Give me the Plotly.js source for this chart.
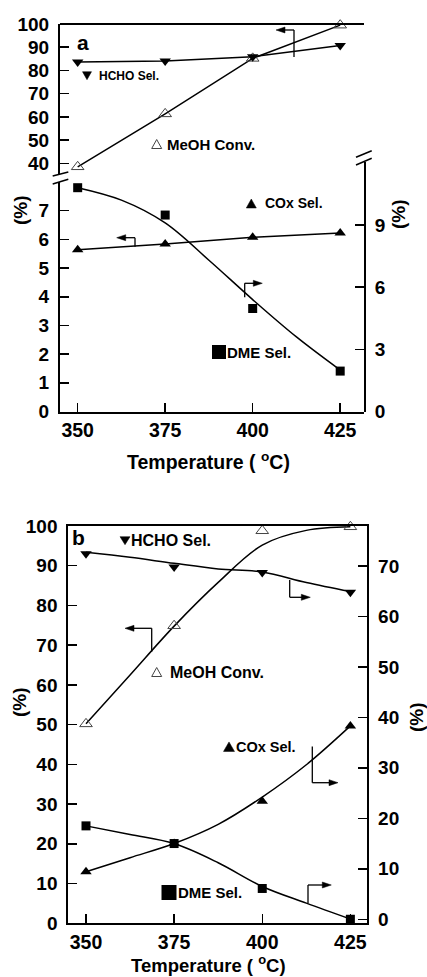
<!DOCTYPE html>
<html><head><meta charset="utf-8">
<script src="https://cdn.plot.ly/plotly-3.0.1.min.js"></script>
<style>html,body{margin:0;padding:0;background:#fff}#chart{width:427px;height:977px}</style>
</head><body><div id="chart"></div>
<script>
// Reaction temperatures (°C)
const temps = [350, 375, 400, 425];
const tickTemps = [350, 375, 400, 425];
const fitTemps = [350, 362.5, 375, 387.5, 400, 412.5, 425];

// Panel (a) measurements
const aMeohConv = [38.5, 61.3, 85.2, 99.5];   // left, upper part
const aHchoSel  = [83.6, 84.1, 85.9, 90.7];   // left, upper part
const aCoxSel   = [5.64, 5.84, 6.07, 6.22];   // left, lower part
const aDmeSel   = [10.8, 9.48, 4.97, 1.95];   // right, lower part
const aDmeFit   = [10.8, 10.2, 9.1, 7.3, 5.4, 3.6, 2.0];

// Panel (b) measurements
const bMeohConv = [50.2, 74.9, 98.8, 99.8];   // left
const bHchoSel  = [72.4, 69.8, 68.7, 64.8];   // right
const bCoxSel   = [9.4, 15.0, 23.4, 38.3];    // right
const bDmeSel   = [18.5, 15.0, 6.1, 0.0];     // right
const bMeohFit  = [50.2, 62.5, 74.8, 85.8, 95.2, 98.9, 99.8];
const bHchoFit  = [72.7, 71.7, 70.5, 69.4, 68.8, 66.7, 64.9];
const bCoxFit   = [9.4, 12.2, 15.0, 18.8, 24.2, 30.6, 38.3];
const bDmeFit   = [18.5, 16.8, 15.0, 11.2, 6.5, 3.2, 0.05];

// Tick labels
const aLeftUpTicks = [40, 50, 60, 70, 80, 90, 100];
const aLeftLowTicks = [0, 1, 2, 3, 4, 5, 6, 7];
const aRightUpTicks = [70, 80, 90, 100];
const aRightLowTicks = [0, 3, 6, 9];
const bLeftTicks = [0, 10, 20, 30, 40, 50, 60, 70, 80, 90, 100];
const bRightTicks = [0, 10, 20, 30, 40, 50, 60, 70];

const W = 427, H = 977;
const px = x => x / W;
const py = y => 1 - y / H;
const FONT = 'Liberation Sans, Arial, Helvetica, sans-serif';

function pts(x, y, xa, ya, symbol, size, extra) {
  return Object.assign({
    x: x, y: y, xaxis: xa, yaxis: ya, type: 'scatter', mode: 'markers', cliponaxis: false,
    marker: {symbol: symbol, size: size, color: '#000', line: {color: '#000', width: 0}}
  }, extra || {});
}
function curve(x, y, xa, ya, shape) {
  return {x: x, y: y, xaxis: xa, yaxis: ya, type: 'scatter', mode: 'lines', cliponaxis: false,
    line: {color: '#000', width: 1.5, shape: shape || 'linear', smoothing: 1}};
}
const openTri = {marker: {symbol: 'triangle-up-open', size: 11, color: '#444', line: {width: 1}}};

const traces = [
  // panel a
  curve(temps, aMeohConv, 'x', 'y'),
  curve(temps, aHchoSel, 'x', 'y'),
  curve(temps, aCoxSel, 'x', 'y2'),
  curve(fitTemps, aDmeFit, 'x', 'y4', 'spline'),
  pts(temps, aMeohConv, 'x', 'y', 'triangle-up-open', 11, openTri),
  pts(temps, aHchoSel, 'x', 'y', 'triangle-down', 10),
  pts(temps, aCoxSel, 'x', 'y2', 'triangle-up', 10),
  pts(temps, aDmeSel, 'x', 'y4', 'square', 9),
  // panel b
  curve(fitTemps, bMeohFit, 'x2', 'y5', 'spline'),
  curve(fitTemps, bHchoFit, 'x2', 'y6', 'spline'),
  curve(fitTemps, bCoxFit, 'x2', 'y6', 'spline'),
  curve(fitTemps, bDmeFit, 'x2', 'y6', 'spline'),
  pts(temps, bMeohConv, 'x2', 'y5', 'triangle-up-open', 11, openTri),
  pts(temps, bHchoSel, 'x2', 'y6', 'triangle-down', 10),
  pts(temps, bCoxSel, 'x2', 'y6', 'triangle-up', 10),
  pts(temps, bDmeSel, 'x2', 'y6', 'square', 9)
];

const tickFont = {family: FONT, size: 19, color: '#000', weight: 'bold'};
function yax(domain, range, ticks, anchor, side, extra) {
  return Object.assign({
    domain: domain, range: range, tickvals: ticks, anchor: anchor, side: side,
    ticks: 'inside', ticklen: 9, tickwidth: 1.5, tickcolor: '#000',
    showline: true, linewidth: 2, linecolor: '#000', showgrid: false, zeroline: false,
    tickfont: tickFont, ticklabelstandoff: 5, fixedrange: true
  }, extra || {});
}
function xax(domain, range, anchor, extra) {
  return Object.assign({
    domain: domain, range: range, tickvals: tickTemps, anchor: anchor,
    ticks: 'inside', ticklen: 9, tickwidth: 1.5, tickcolor: '#000',
    showline: true, linewidth: 2, linecolor: '#000', showgrid: false, zeroline: false,
    tickfont: Object.assign({}, tickFont, {size: 19.5}), ticklabelstandoff: 0, fixedrange: true
  }, extra || {});
}

// ----- shapes: frame pieces, axis breaks, bracket arrows, legend symbols
const shapes = [];
function seg(x0, y0, x1, y1, w) {
  shapes.push({type: 'line', xref: 'paper', yref: 'paper', x0: px(x0), y0: py(y0), x1: px(x1), y1: py(y1),
    line: {color: '#000', width: w || 1.3}});
}
function poly(p, fill, lw) {
  shapes.push({type: 'path', xref: 'paper', yref: 'paper',
    path: 'M' + p.map(q => px(q[0]) + ',' + py(q[1])).join('L') + 'Z',
    fillcolor: fill, line: {color: fill === '#fff' ? '#444' : '#000', width: lw}});
}
function head(x, y, dir) { // filled arrowhead, tip at (x,y), dir=-1 left, +1 right
  const L = 9, h = 3;
  poly([[x, y], [x - dir * L, y - h], [x - dir * L, y + h]], '#000', 0.5);
}
function bracket(vx, vy0, vy1, hy, tipX) {
  seg(vx, vy0, vx, vy1);
  const dir = tipX < vx ? -1 : 1;
  seg(vx, hy, tipX - dir * 6, hy);
  head(tipX, hy, dir);
}
function square(cx, cy, s) {
  shapes.push({type: 'rect', xref: 'paper', yref: 'paper',
    x0: px(cx - s / 2), x1: px(cx + s / 2), y0: py(cy + s / 2), y1: py(cy - s / 2),
    fillcolor: '#000', line: {width: 0}});
}
function triUp(cx, cy, w, h, open) {
  poly([[cx, cy - h / 2], [cx + w / 2, cy + h / 2], [cx - w / 2, cy + h / 2]], open ? '#fff' : '#000', open ? 1 : 0.5);
}
function triDown(cx, cy, w, h) {
  poly([[cx - w / 2, cy - h / 2], [cx + w / 2, cy - h / 2], [cx, cy + h / 2]], '#000', 0.5);
}

// panel a top edge
seg(60, 24, 364, 24, 2);
// axis breaks
seg(52.7, 176, 68.3, 172, 1.5); seg(52.7, 184, 68.3, 179.3, 1.5);
seg(356, 157.3, 371.7, 150.7, 1.5); seg(356, 165, 371.7, 158.3, 1.5);
// arrows panel a
bracket(294, 30, 57, 30, 276);
bracket(135, 237.7, 246.7, 237.7, 116.7);
bracket(244.7, 297.3, 283.3, 283.3, 262.3);
// arrows panel b
bracket(151.7, 628.3, 651.7, 628.3, 125);
bracket(289.7, 580, 597.3, 597.3, 310.3);
bracket(312.3, 746.5, 782.7, 782.7, 338);
bracket(308, 903.3, 885, 885, 331.3);
// legend symbols
triDown(87, 75.7, 9, 8);
triUp(156.7, 144, 10, 9, true);
triUp(251.3, 203.5, 10, 9);
square(219, 352, 14);
triDown(125, 540.7, 10, 8);
triUp(156.7, 672, 10, 9, true);
triUp(229, 746.7, 11, 9.5);
square(169, 892.5, 15);

// ----- text
const annotations = [];
function txt(text, x, y, size, anchor, extra) {
  annotations.push(Object.assign({
    text: text, xref: 'paper', yref: 'paper', x: px(x), y: py(y), xanchor: anchor || 'left', yanchor: 'middle',
    showarrow: false, borderpad: 0, font: {family: FONT, size: size, color: '#000', weight: 'bold'}
  }, extra || {}));
}
txt('a', 82.5, 42, 21, 'center');
txt('HCHO Sel.', 98, 75.5, 12);
txt('MeOH Conv.', 165.5, 145, 15);
txt('COx Sel.', 263.5, 203.5, 14);
txt('DME Sel.', 226, 352, 15);
txt('(%)', 20, 210, 19, 'center', {textangle: -90});
txt('(%)', 399, 214, 19, 'center', {textangle: -90});
txt('Temperature ( <sup>o</sup>C)', 208, 461, 19.5, 'center');

txt('b', 78, 537, 21, 'center');
txt('HCHO Sel.', 130, 540.5, 16);
txt('MeOH Conv.', 169, 672, 16);
txt('COx Sel.', 235, 746.5, 14.5);
txt('DME Sel.', 176.5, 892.5, 15);
txt('(%)', 19, 702, 19, 'center', {textangle: -90});
txt('(%)', 416, 717, 19, 'center', {textangle: -90});
txt('Temperature ( <sup>o</sup>C)', 208, 963.5, 18.5, 'center');

const layout = {
  width: W, height: H, margin: {l: 0, r: 0, t: 0, b: 0},
  paper_bgcolor: '#fff', plot_bgcolor: 'rgba(0,0,0,0)', showlegend: false, hovermode: false,
  font: {family: FONT, color: '#000'},
  xaxis: xax([px(60), px(364)], [344.95, 431.8], 'y2'),
  yaxis: yax([py(174), py(24)], [35.4, 100], aLeftUpTicks, 'x', 'left'),
  yaxis2: yax([py(411.5), py(182)], [0, 8.0], aLeftLowTicks, 'x', 'left'),
  yaxis3: yax([py(154), py(24)], [70.4, 100], aRightUpTicks, 'x', 'right'),
  yaxis4: yax([py(411.5), py(162)], [0, 12.04], aRightLowTicks, 'x', 'right'),
  xaxis2: xax([px(68.3), px(367.3)], [344.98, 429.8], 'y5', {mirror: true}),
  yaxis5: yax([py(923.3), py(526)], [0, 100], bLeftTicks, 'x2', 'left'),
  yaxis6: yax([py(923.3), py(526)], [-0.8, 77.9], bRightTicks, 'x2', 'right', {overlaying: 'y5'}),
  shapes: shapes, annotations: annotations
};

Plotly.newPlot('chart', traces, layout, {staticPlot: true, displayModeBar: false});
</script>
</body></html>
